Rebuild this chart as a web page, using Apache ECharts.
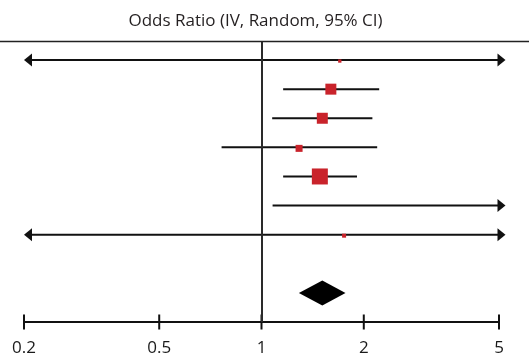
<!DOCTYPE html>
<html>
<head>
<meta charset="utf-8">
<script src="https://cdn.jsdelivr.net/npm/echarts@6/dist/echarts.min.js"></script>
<style>
html,body{margin:0;padding:0;background:#fff;}
#chart{width:529px;height:361px;}
</style>
</head>
<body>
<div id="chart"></div>
<script>
// ---- data ----
var titleText = 'Odds Ratio (IV, Random, 95% CI)';
var tickValues = [0.2, 0.5, 1, 2, 5];
var tickLabels = ['0.2', '0.5', '1', '2', '5'];
// per-study odds ratio, lower and upper 95% CI, weight (%)
var estimates = [1.70, 1.60, 1.51, 1.29, 1.485, 3.5, 1.75];
var lowerCI   = [0.05, 1.158, 1.075, 0.763, 1.158, 1.078, 0.08];
var upperCI   = [60, 2.22, 2.12, 2.19, 1.91, 12, 40];
var weights   = [1.6, 21.1, 21.1, 8.6, 44.8, 0, 2.8];
// pooled estimate [est, lower, upper]
var pooled = [1.51, 1.288, 1.767];
var pooledRow = 8;

var xMin = 0.2, xMax = 5;
var RED = '#c9232b';
var INK = '#111111';

var chart = echarts.init(document.getElementById('chart'), null, {renderer: 'canvas'});

var studyData = estimates.map(function (e, i) {
  return [i, lowerCI[i], upperCI[i], e, weights[i]];
});
var maxW = Math.max.apply(null, weights);

function renderStudy(params, api) {
  var row = api.value(0), lo = api.value(1), hi = api.value(2), est = api.value(3), w = api.value(4);
  var loC = Math.max(lo, xMin), hiC = Math.min(hi, xMax);
  var pLo = api.coord([loC, row]);
  var pHi = api.coord([hiC, row]);
  var y = pLo[1];
  var children = [];
  var x1 = pLo[0], x2 = pHi[0];
  if (lo < xMin) {
    children.push({type: 'polygon', shape: {points: [[x1, y], [x1 + 8, y - 6.5], [x1 + 8, y + 6.5]]}, style: {fill: INK}});
    x1 = x1 + 6;
  }
  if (hi > xMax) {
    var tip = x2 + 6.5;
    children.push({type: 'polygon', shape: {points: [[tip, y], [tip - 8, y - 6.5], [tip - 8, y + 6.5]]}, style: {fill: INK}});
    x2 = tip - 6;
  }
  children.unshift({type: 'line', shape: {x1: x1, y1: y, x2: x2, y2: y}, style: {stroke: INK, lineWidth: 2}});
  if (w > 0 && est >= xMin && est <= xMax) {
    var s = 16 * Math.sqrt(w / maxW);
    s = Math.max(s, 3.3);
    var pe = api.coord([est, row]);
    var off = s < 8 ? 1 : 0;
    children.push({type: 'rect', shape: {x: pe[0] - s / 2, y: pe[1] - s / 2 + off, width: s, height: s}, style: {fill: RED}});
  }
  return {type: 'group', children: children};
}

function renderPooled(params, api) {
  var row = api.value(0);
  var pl = api.coord([api.value(2), row]);
  var pc = api.coord([api.value(1), row]);
  var ph = api.coord([api.value(3), row]);
  var h = 12.5;
  return {type: 'polygon', shape: {points: [[pl[0], pl[1]], [pc[0], pc[1] - h], [ph[0], ph[1]], [pc[0], pc[1] + h]]}, style: {fill: '#000'}};
}

var tickData = tickValues.map(function (v, i) { return [v, tickLabels[i]]; });
function renderTick(params, api) {
  var v = api.value(0);
  var p = api.coord([v, 9.0]);
  return {type: 'group', children: [
    {type: 'line', shape: {x1: p[0], y1: p[1] - 7.5, x2: p[0], y2: p[1] + 7.5}, style: {stroke: INK, lineWidth: 2}},
    {type: 'text', x: p[0], y: p[1] + 26.5, style: {text: tickLabels[params.dataIndex], fill: '#1a1a1a', font: '17px "Open Sans"', align: 'center', verticalAlign: 'middle'}}
  ]};
}

var option = {
  animation: false,
  backgroundColor: '#fff',
  grid: {left: 24, top: 42, width: 475, height: 280, containLabel: false},
  xAxis: {
    type: 'log', logBase: 10, min: xMin, max: xMax,
    axisLine: {show: true, onZero: false, lineStyle: {color: INK, width: 2}},
    axisTick: {show: false}, axisLabel: {show: false}, splitLine: {show: false}
  },
  yAxis: {
    type: 'value', min: -0.62, max: 9.0, inverse: true,
    show: false, splitLine: {show: false}
  },
  graphic: [
    {type: 'line', shape: {x1: 0, y1: 41.5, x2: 529, y2: 41.5}, style: {stroke: '#222', lineWidth: 1.5}, z: 10},
    {type: 'text', x: 255.5, y: 21, style: {text: titleText, fill: '#231f20', font: '17px "Open Sans"', align: 'center', verticalAlign: 'middle'}}
  ],
  series: [
    {
      type: 'custom', name: 'studies', renderItem: renderStudy, data: studyData,
      encode: {x: [1, 2], y: 0}, z: 3,
      markLine: {silent: true, symbol: 'none', label: {show: false},
        lineStyle: {color: '#2a2a2a', width: 2, type: 'solid'}, data: [{xAxis: 1}]}
    },
    {type: 'custom', name: 'pooled', renderItem: renderPooled, data: [[pooledRow, pooled[0], pooled[1], pooled[2]]], encode: {x: [2, 3], y: 0}, z: 3},
    {type: 'custom', name: 'ticks', renderItem: renderTick, data: tickData, encode: {x: 0}, clip: false, z: 4}
  ]
};
chart.setOption(option);
</script>
</body>
</html>
